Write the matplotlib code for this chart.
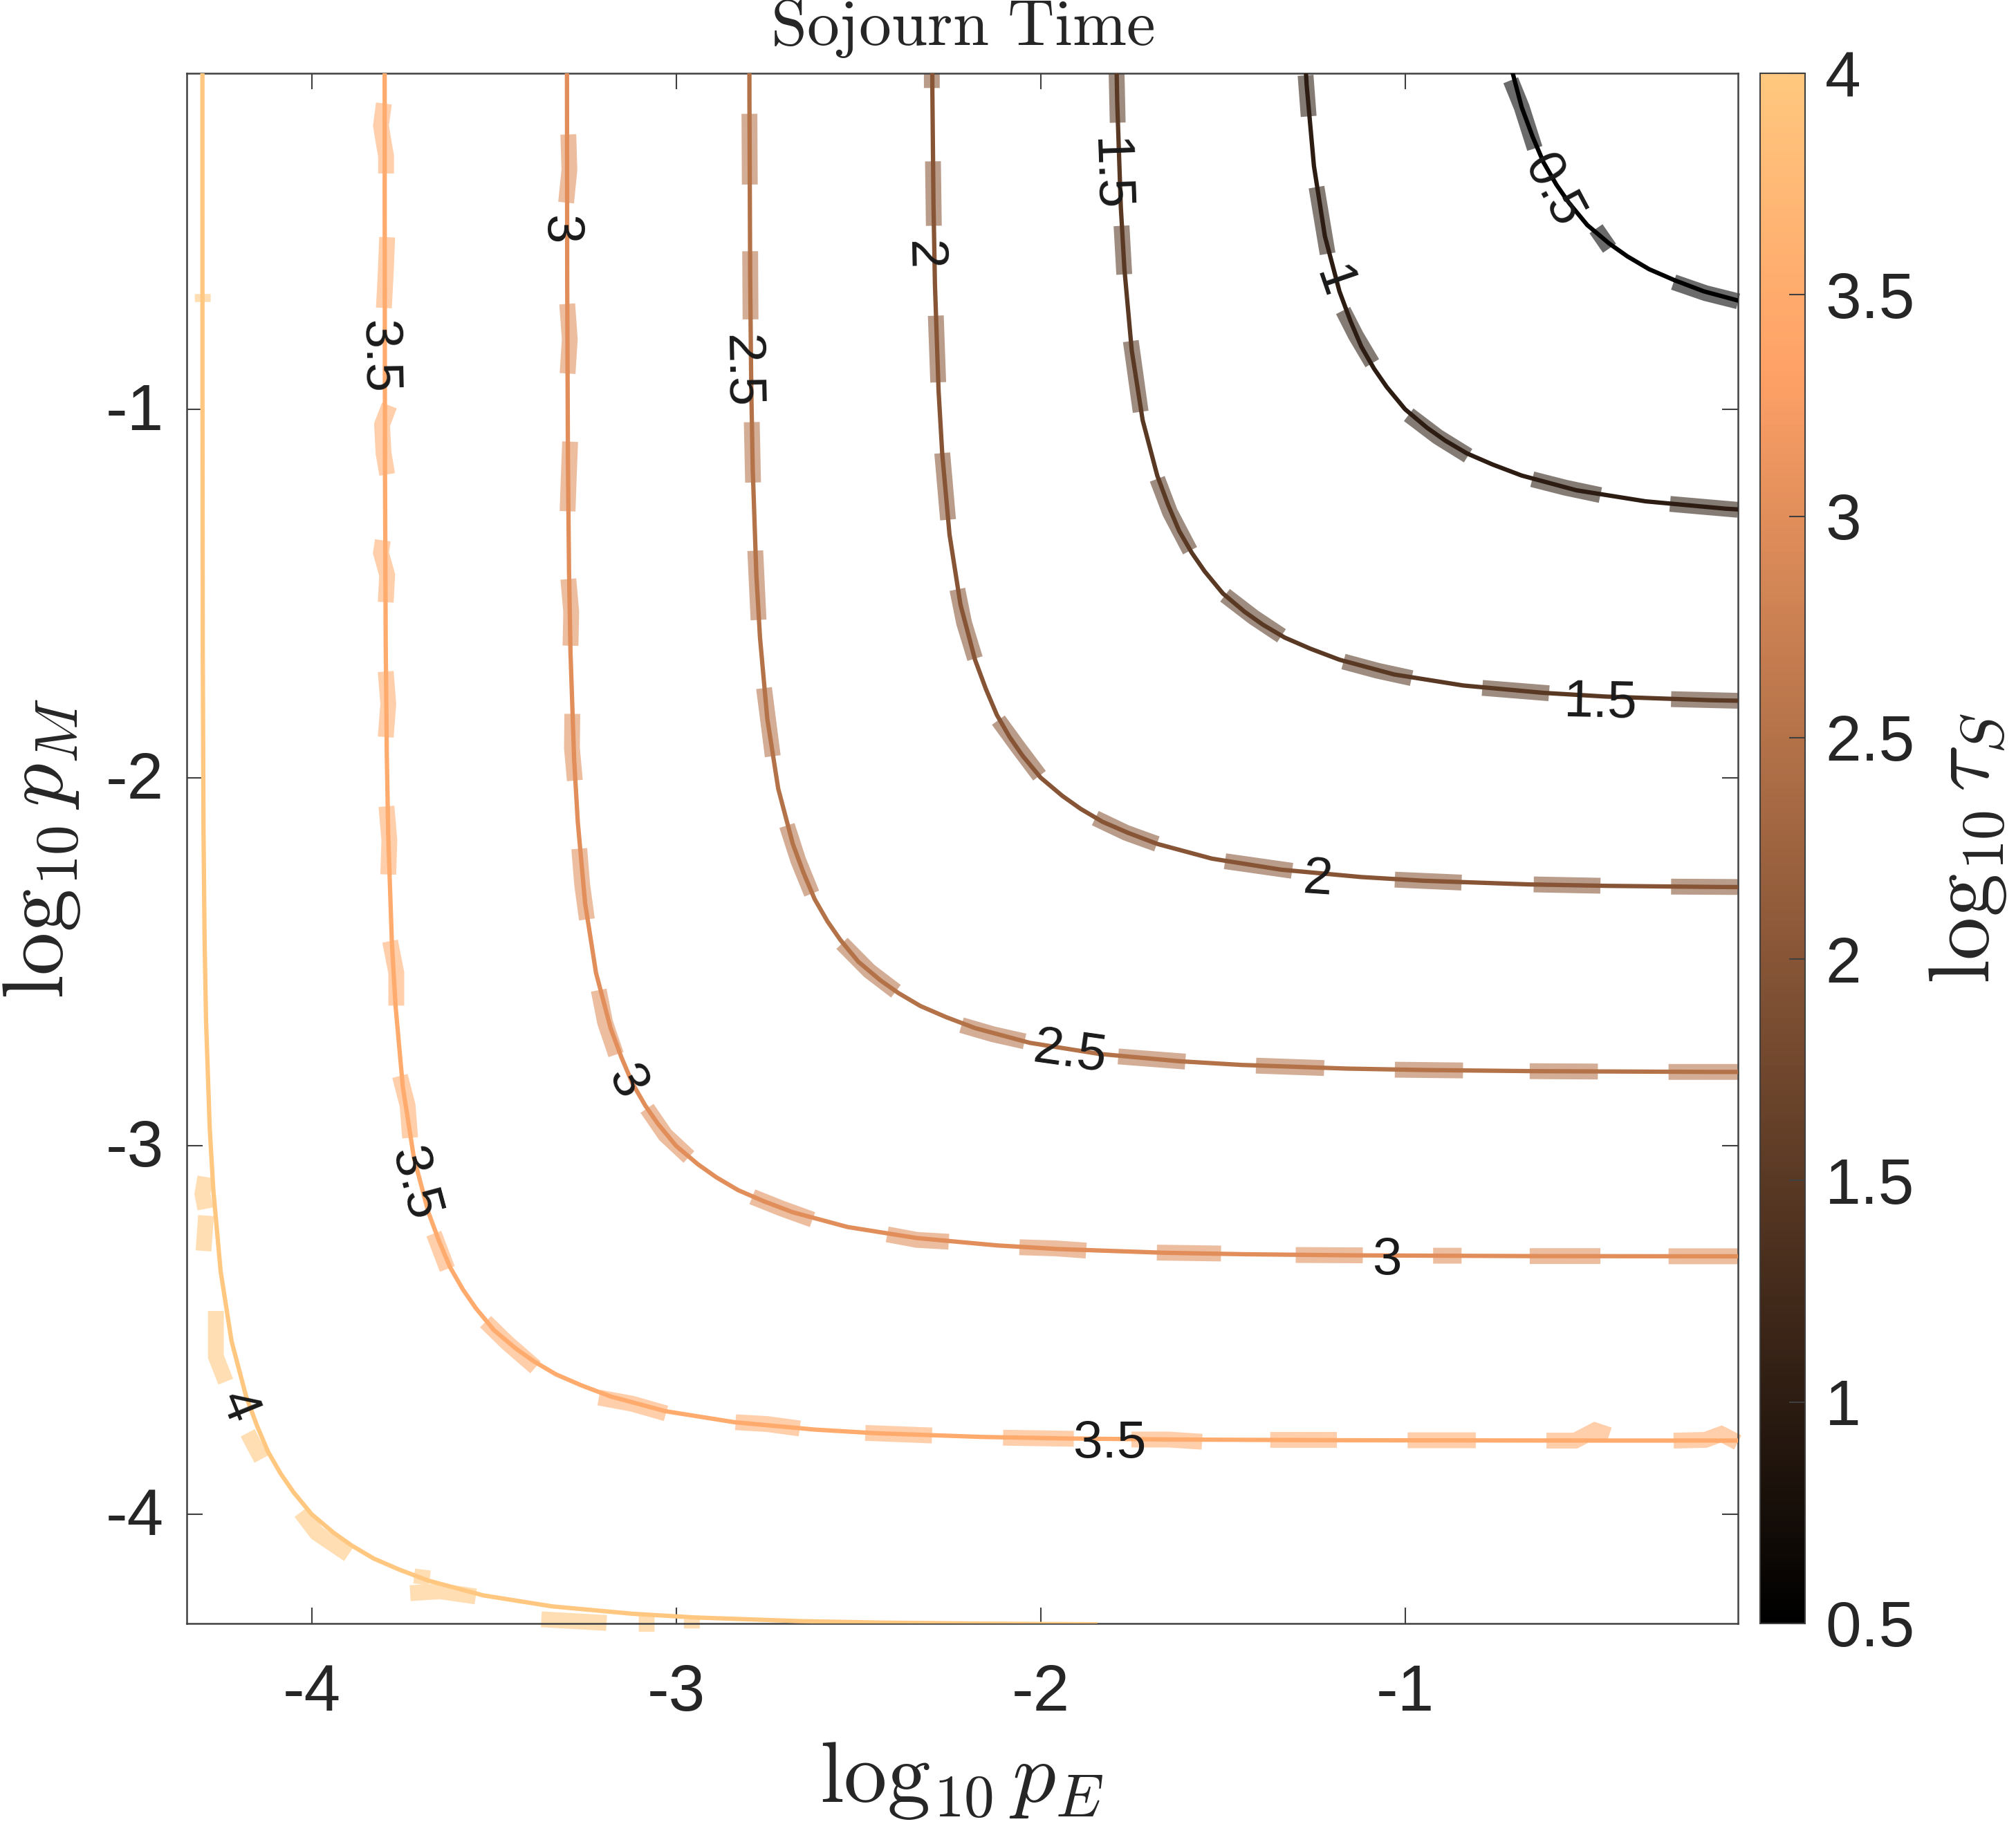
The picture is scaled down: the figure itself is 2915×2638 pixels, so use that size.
import numpy as np
import matplotlib
matplotlib.use('Agg')
import matplotlib.pyplot as plt
from matplotlib.cm import ScalarMappable
from matplotlib.colors import Normalize
from matplotlib.transforms import ScaledTranslation

plt.rcParams['font.family'] = ['Liberation Sans', 'DejaVu Sans']
plt.rcParams['mathtext.fontset'] = 'cm'

levels = [0.5, 1, 1.5, 2, 2.5, 3, 3.5, 4]
xticks = [-4, -3, -2, -1]
yticks = [-4, -3, -2, -1]
cticks = [0.5, 1, 1.5, 2, 2.5, 3, 3.5, 4]
ctick_labels = ['0.5', '1', '1.5', '2', '2.5', '3', '3.5', '4']

# контуры, значения
x_05 = [-.72, -.68, -.65, -.62, -.585, -.55, -.50, -.44, -.39, -.33, -.26, -.18, -.03]
y_05 = x_05[::-1]
x_10 = [-1.28, -1.27, -1.25, -1.22, -1.18, -1.15, -1.12, -1.085, -1.05, -1.00, -.94, -.89, -.83,
        -.76, -.68, -.53, -.34, -.12, .05]
y_10 = x_10[::-1]
x_15 = [-1.794, -1.79, -1.78, -1.77, -1.75, -1.72, -1.68, -1.65, -1.62, -1.585, -1.55, -1.50, -1.44,
        -1.39, -1.33, -1.26, -1.18, -1.03, -.84, -.62, -.45, -.16, .06]
y_15 = x_15[::-1]
x_20 = [-2.299, -2.297, -2.294, -2.29, -2.28, -2.27, -2.25, -2.22, -2.18, -2.15, -2.12, -2.085, -2.05,
        -2.00, -1.94, -1.89, -1.83, -1.76, -1.68, -1.53, -1.34, -1.12, -.95, -.66, -.44, -.14, .34]
y_20 = x_20[::-1]
x_25 = [-2.7998, -2.799, -2.797, -2.794, -2.79, -2.78, -2.77, -2.75, -2.72, -2.68, -2.65, -2.62, -2.585,
        -2.55, -2.50, -2.44, -2.39, -2.33, -2.26, -2.18, -2.03, -1.84, -1.62, -1.45, -1.16, -.94, -.64,
        -.16, .54]
y_25 = x_25[::-1]
x_30 = [-3.2998, -3.299, -3.297, -3.294, -3.29, -3.28, -3.27, -3.25, -3.22, -3.18, -3.15, -3.12, -3.085,
        -3.05, -3.00, -2.94, -2.89, -2.83, -2.76, -2.68, -2.53, -2.34, -2.12, -1.95, -1.66, -1.44, -1.14,
        -.66, .04]
y_30 = x_30[::-1]
x_35 = [-3.79997, -3.7998, -3.799, -3.797, -3.794, -3.79, -3.78, -3.77, -3.75, -3.72, -3.68, -3.65, -3.62,
        -3.585, -3.55, -3.50, -3.44, -3.39, -3.33, -3.26, -3.18, -3.03, -2.84, -2.62, -2.45, -2.16, -1.94,
        -1.64, -1.16, -.46, .4]
y_35 = x_35[::-1]
x_40 = [-4.29998, -4.2998, -4.299, -4.297, -4.294, -4.29, -4.28, -4.27, -4.25, -4.22, -4.18, -4.15, -4.12,
        -4.085, -4.05, -4.00, -3.94, -3.89, -3.83, -3.76, -3.68, -3.53, -3.34, -3.12, -2.95, -2.66, -2.44,
        -2.14, -1.85]
y_40 = [0.0, -.96, -1.66, -2.14, -2.44, -2.66, -2.95, -3.12, -3.34, -3.53, -3.68, -3.76, -3.83, -3.89, -3.94,
        -4.00, -4.05, -4.085, -4.12, -4.15, -4.18, -4.22, -4.25, -4.27, -4.28, -4.29, -4.294, -4.297, -4.2985]

# штрихи поверх контуров (толстые полупрозрачные куски)
dash_05 = [[(-.710, -.107), (-.68, -.18), (-.644, -.292)],
           [(-.476, -.510), (-.439, -.563)],
           [(-.263, -.655), (-.175, -.685), (-.086, -.707)]]
dash_10 = [[(-1.273, -.0935), (-1.2645, -.205)],
           [(-1.243, -.397), (-1.2125, -.578)],
           [(-1.17, -.732), (-1.135, -.80), (-1.09, -.875)],
           [(-.99, -1.015), (-.91, -1.075), (-.827, -1.126)],
           [(-.651, -1.19), (-.56, -1.213), (-.464, -1.233)],
           [(-.273, -1.257), (-.087, -1.273)]]
dash_15 = [[(-1.7915, -.09), (-1.7885, -.222)],
           [(-1.778, -.502), (-1.7705, -.634)],
           [(-1.7525, -.815), (-1.7255, -1.007)],
           [(-1.68, -1.189), (-1.645, -1.28), (-1.59, -1.384)],
           [(-1.494, -1.505), (-1.415, -1.565), (-1.339, -1.615)],
           [(-1.169, -1.685), (-1.075, -1.71), (-.982, -1.73)],
           [(-.788, -1.7565), (-.605, -1.771)],
           [(-.27, -1.787), (-.087, -1.7915)]]
dash_20 = [[(-2.2985, -.09), (-2.2985, -.128)],
           [(-2.2954, -.327), (-2.293, -.502)],
           [(-2.2876, -.746), (-2.281, -.927)],
           [(-2.27, -1.119), (-2.254, -1.30)],
           [(-2.2285, -1.489), (-2.21, -1.58), (-2.18, -1.677)],
           [(-2.116, -1.844), (-2.06, -1.92), (-2.003, -1.995)],
           [(-1.85, -2.11), (-1.765, -2.15), (-1.681, -2.18)],
           [(-1.494, -2.227), (-1.31, -2.253)],
           [(-1.028, -2.277), (-.845, -2.285)],
           [(-.647, -2.29), (-.464, -2.2936)],
           [(-.27, -2.296), (-.087, -2.297)]]
dash_25 = [[(-2.799, -.198), (-2.798, -.39)],
           [(-2.797, -.571), (-2.796, -.756)],
           [(-2.7926, -1.035), (-2.789, -1.199)],
           [(-2.783, -1.384), (-2.774, -1.572)],
           [(-2.759, -1.757), (-2.735, -1.942)],
           [(-2.696, -2.13), (-2.665, -2.225), (-2.628, -2.315)],
           [(-2.545, -2.45), (-2.47, -2.525), (-2.397, -2.58)],
           [(-2.217, -2.672), (-2.13, -2.697), (-2.044, -2.716)],
           [(-1.787, -2.757), (-1.603, -2.771)],
           [(-1.409, -2.782), (-1.222, -2.7885)],
           [(-1.028, -2.793), (-.841, -2.795)],
           [(-.658, -2.797), (-.471, -2.798)],
           [(-.277, -2.799), (-.087, -2.799)]]
dash_30 = [[(-3.296, -.254), (-3.293, -.35), (-3.302, -.439)],
           [(-3.299, -.714), (-3.292, -.81), (-3.298, -.903)],
           [(-3.291, -1.088), (-3.295, -1.19), (-3.298, -1.277)],
           [(-3.296, -1.461), (-3.288, -1.55), (-3.29, -1.642)],
           [(-3.285, -1.827), (-3.286, -1.92), (-3.278, -2.008)],
           [(-3.266, -2.193), (-3.258, -2.29), (-3.245, -2.385)],
           [(-3.2125, -2.577), (-3.195, -2.665), (-3.165, -2.752)],
           [(-3.08, -2.898), (-3.03, -2.97), (-2.965, -3.03)],
           [(-2.791, -3.138), (-2.71, -3.17), (-2.626, -3.2)],
           [(-2.421, -3.24), (-2.34, -3.255), (-2.252, -3.26)],
           [(-2.058, -3.275), (-1.96, -3.278), (-1.875, -3.284)],
           [(-1.681, -3.2895), (-1.505, -3.292)],
           [(-1.30, -3.296), (-1.116, -3.297)],
           [(-.923, -3.298), (-.845, -3.298)],
           [(-.658, -3.299), (-.464, -3.299)],
           [(-.277, -3.2995), (-.087, -3.2995)]]
dash_35 = [[(-3.802, -.17), (-3.81, -.23), (-3.802, -.279), (-3.796, -.313), (-3.796, -.36)],
           [(-3.793, -.533), (-3.797, -.63), (-3.802, -.725)],
           [(-3.787, -.99), (-3.807, -1.042), (-3.803, -1.119), (-3.793, -1.177)],
           [(-3.805, -1.356), (-3.81, -1.39), (-3.793, -1.45), (-3.797, -1.524)],
           [(-3.797, -1.712), (-3.79, -1.80), (-3.797, -1.89)],
           [(-3.795, -2.078), (-3.787, -2.17), (-3.79, -2.263)],
           [(-3.785, -2.444), (-3.768, -2.53), (-3.768, -2.619)],
           [(-3.758, -2.81), (-3.737, -2.89), (-3.73, -2.978)],
           [(-3.665, -3.238), (-3.645, -3.29), (-3.628, -3.334)],
           [(-3.523, -3.477), (-3.463, -3.535), (-3.386, -3.601)],
           [(-3.212, -3.683), (-3.12, -3.70), (-3.028, -3.726)],
           [(-2.837, -3.75), (-2.75, -3.755), (-2.661, -3.767)],
           [(-2.481, -3.779), (-2.298, -3.786)],
           [(-2.103, -3.792), (-1.909, -3.795)],
           [(-1.751, -3.797), (-1.65, -3.797), (-1.557, -3.803)],
           [(-1.37, -3.798), (-1.187, -3.798)],
           [(-.993, -3.799), (-.806, -3.799)],
           [(-.612, -3.80), (-.533, -3.80), (-.479, -3.772), (-.44, -3.785)],
           [(-.263, -3.80), (-.176, -3.798), (-.132, -3.782), (-.087, -3.805)]]
dash_40 = [[(-4.299, -.687), (-4.299, -.709)],
           [(-4.292, -3.084), (-4.30, -3.13), (-4.292, -3.171)],
           [(-4.29, -3.189), (-4.297, -3.285)],
           [(-4.263, -3.448), (-4.263, -3.572), (-4.236, -3.64)],
           [(-4.176, -3.779), (-4.138, -3.85)],
           [(-4.03, -3.994), (-3.986, -4.051), (-3.899, -4.109)],
           [(-3.695, -4.15), (-3.70, -4.19)],
           [(-3.73, -4.214), (-3.648, -4.209), (-3.55, -4.223)],
           [(-3.37, -4.285), (-3.191, -4.295)],
           [(-3.081, -4.276), (-3.081, -4.319)],
           [(-2.957, -4.285), (-2.957, -4.31)]]

# подписи контуров: текст, x, y, поворот
label_text = ['0.5', '1', '1.5', '1.5', '2', '2', '2.5', '2.5', '3', '3', '3', '3.5', '3.5', '3.5', '4']
label_x = [-.594, -1.2, -1.815, -.464, -2.323, -1.24, -2.823, -1.92, -3.321, -3.137, -1.05, -3.818, -3.719,
           -1.811, -4.204]
label_y = [-.407, -.655, -.362, -1.798, -.582, -2.278, -.896, -2.748, -.512, -2.827, -3.312, -.857, -3.103,
           -3.81, -3.708]
label_rot = [-62, -71, -88, -1, -89, -4, -89, -8, -90, -62, 0, -89, -75, 0, -68]

curves = [(x_05, y_05, dash_05), (x_10, y_10, dash_10), (x_15, y_15, dash_15), (x_20, y_20, dash_20),
          (x_25, y_25, dash_25), (x_30, y_30, dash_30), (x_35, y_35, dash_35), (x_40, y_40, dash_40)]

W, H = 2915, 2638
fig = plt.figure(figsize=(W / 100, H / 100), dpi=100)
ax = fig.add_axes([270 / W, (H - 2348) / H, (2513 - 270) / W, (2348 - 106) / H])
cax = fig.add_axes([2545 / W, (H - 2348) / H, (2610 - 2545) / W, (2348 - 106) / H])

cmap = plt.get_cmap('copper')
norm = Normalize(vmin=0.5, vmax=4)

for level, (cx, cy, dashes) in zip(levels, curves):
    color = cmap(norm(level))
    # куски штрихов соединяем через nan
    dx, dy = [], []
    for dash in dashes:
        dx += [p[0] for p in dash] + [np.nan]
        dy += [p[1] for p in dash] + [np.nan]
    ax.plot(dx, dy, color=color, alpha=0.58, lw=16.5, solid_capstyle='butt', solid_joinstyle='miter',
            clip_on=False, zorder=2)
    ax.plot(cx, cy, color=color, lw=4.5, solid_joinstyle='round', zorder=3)

for text, x, y, rot in zip(label_text, label_x, label_y, label_rot):
    ax.text(x, y, text, fontsize=55, color='#1a1a1a', rotation=rot, rotation_mode='anchor',
            ha='center', va='center', zorder=4)

ax.set_xlim(-4.343, -0.0865)
ax.set_ylim(-4.2964, -0.088)
ax.set_xticks(xticks)
ax.set_yticks(yticks)
ax.set_xticklabels([str(t) for t in xticks])
ax.set_yticklabels([str(t) for t in yticks], va='center')
ax.tick_params(axis='x', which='major', direction='in', top=True, length=16.5, width=1.5, color='#404040',
               labelsize=68, labelcolor='#262626', pad=41)
ax.tick_params(axis='y', which='major', direction='in', right=True, length=16.5, width=1.5, color='#404040',
               labelsize=68, labelcolor='#262626', pad=24)
# подписи по y чуть ниже засечек
shift = ScaledTranslation(0, -4 / 72, fig.dpi_scale_trans)
for lab in ax.get_yticklabels():
    lab.set_transform(lab.get_transform() + shift)
for spine in ax.spines.values():
    spine.set_linewidth(1.8)
    spine.set_color('#404040')

cb = fig.colorbar(ScalarMappable(norm=norm, cmap=cmap), cax=cax)
cb.set_ticks(cticks)
cb.set_ticklabels(ctick_labels)
cb.ax.tick_params(direction='in', length=16.5, width=1.5, color='#404040', labelsize=67, labelcolor='#262626',
                  pad=21)
cb.outline.set_linewidth(1.5)
cb.outline.set_edgecolor('#404040')

fig.text(1392 / W, 1 - 41 / H, r'$\mathrm{Sojourn\ Time}$', fontsize=67.5, color='#262626', ha='center',
         va='center')
fig.text(1390 / W, 1 - 2575 / H, r'$\log_{10}p_E$', fontsize=90, color='#262626', ha='center', va='center')
fig.text(61 / W, 1 - 1227 / H, r'$\log_{10}p_M$', fontsize=90, color='#262626', rotation=90, ha='center',
         va='center')
fig.text(2845 / W, 1 - 1227 / H, r'$\log_{10}\tau_S$', fontsize=90, color='#262626', rotation=90, ha='center',
         va='center')

fig.savefig('out.png', dpi=100)
